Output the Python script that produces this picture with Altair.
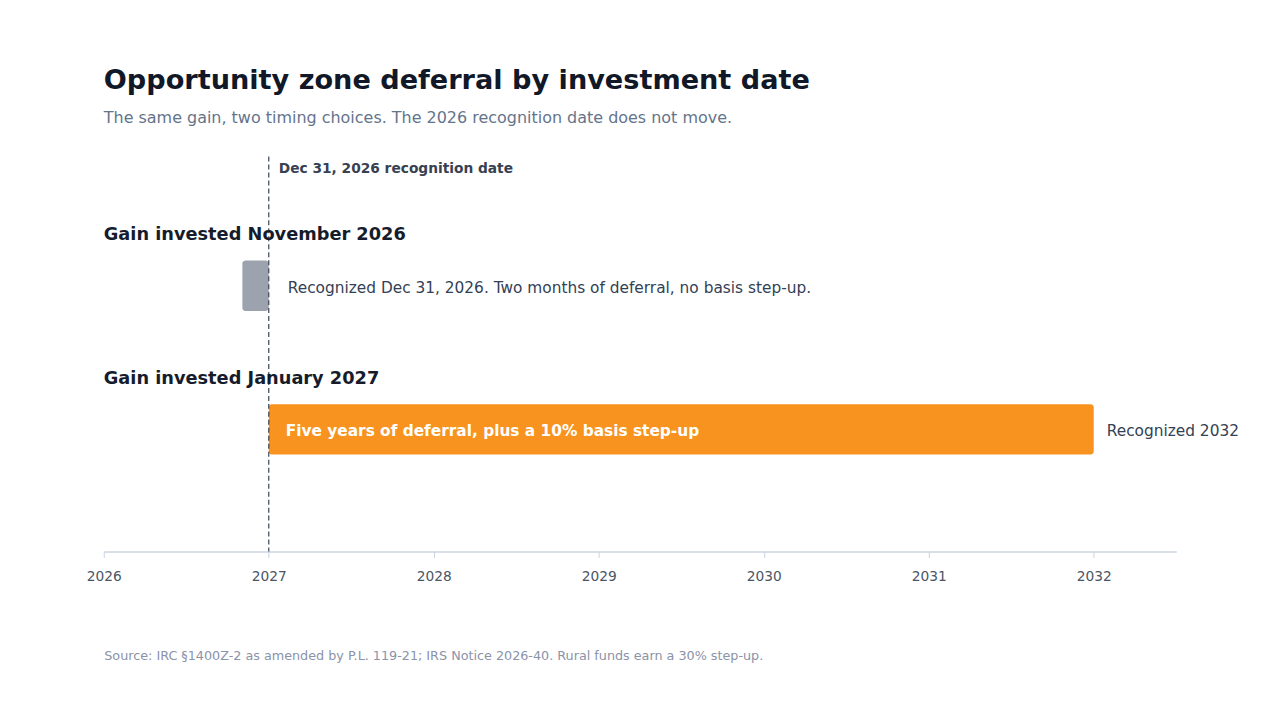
import altair as alt
import pandas as pd

FONT = "DejaVu Sans"

# ---- data ----
row_labels = ["Gain invested November 2026", "Gain invested January 2027"]
row_index = [1, 2]
bar_start = [2026.84, 2027.0]
bar_end = [2027.0, 2032.0]
bar_colors = ["#9ca3af", "#f7931e"]
inside_text = ["", "Five years of deferral, plus a 10% basis step-up"]
end_text = ["Recognized Dec 31, 2026. Two months of deferral, no basis step-up.",
            "Recognized 2032"]
recognition_year = [2027.0]
recognition_label = ["Dec 31, 2026 recognition date"]
tick_years = [2026, 2027, 2028, 2029, 2030, 2031, 2032]

df = pd.DataFrame({
    "label": row_labels,
    "row": row_index,
    "start": bar_start,
    "end": bar_end,
    "color": bar_colors,
    "inside": inside_text,
    "endtext": end_text,
})
rule_df = pd.DataFrame({"x": recognition_year, "label": recognition_label})

xscale = alt.Scale(domain=[2026, 2032.5], nice=False, zero=False)
yscale = alt.Scale(domain=[0, 2.75], reverse=True, nice=False, zero=False)

base = alt.Chart(df).transform_calculate(
    yc="datum.row - 0.1",
    y0="datum.row - 0.275",
    y1="datum.row + 0.075",
    ylab="datum.row - 0.45",
)

bars = base.mark_bar(cornerRadius=3).encode(
    x=alt.X("start:Q", scale=xscale,
            axis=alt.Axis(values=tick_years, format="d",
                          title="Source: IRC §1400Z-2 as amended by P.L. 119-21; IRS Notice 2026-40. Rural funds earn a 30% step-up.",
                          titleAnchor="start", titleAlign="left", titleFontWeight="normal",
                          titleFontSize=12.8, titleColor="#8a93a9", titleFont=FONT,
                          titleY=104, titleBaseline="middle",
                          labelFont=FONT, labelFontSize=13.8, labelColor="#4b5563",
                          labelFlush=False, labelPadding=12, tickSize=6, tickColor="#cbd5e1",
                          domainColor="#cbd5e1", domainWidth=1.5, grid=False)),
    x2="end:Q",
    y=alt.Y("y0:Q", scale=yscale, axis=None),
    y2="y1:Q",
    color=alt.Color("color:N", scale=None),
)

group_labels = base.mark_text(align="left", baseline="middle", font=FONT, fontSize=17.8,
                              fontWeight="bold", color="#161c2b").encode(
    x=alt.value(0),
    y=alt.Y("ylab:Q", scale=yscale),
    text="label:N",
)

inside_labels = base.transform_filter("datum.inside != ''").mark_text(
    align="left", baseline="middle", dx=17, dy=2, font=FONT, fontSize=15.4,
    fontWeight="bold", color="#ffffff").encode(
    x=alt.X("start:Q", scale=xscale),
    y=alt.Y("yc:Q", scale=yscale),
    text="inside:N",
)

end_labels_1 = base.transform_filter("datum.row == 1").mark_text(
    align="left", baseline="middle", dx=19, dy=2, font=FONT, fontSize=15.4,
    color="#334155").encode(
    x=alt.X("end:Q", scale=xscale),
    y=alt.Y("yc:Q", scale=yscale),
    text="endtext:N",
)
end_labels_2 = base.transform_filter("datum.row == 2").mark_text(
    align="left", baseline="middle", dx=13, dy=2, font=FONT, fontSize=15.4,
    color="#334155").encode(
    x=alt.X("end:Q", scale=xscale),
    y=alt.Y("yc:Q", scale=yscale),
    text="endtext:N",
)

rule = alt.Chart(rule_df).mark_rule(color="#3b4658", strokeDash=[5, 3], strokeWidth=1.2).encode(
    x=alt.X("x:Q", scale=xscale),
)
rule_text = alt.Chart(rule_df).transform_calculate(ry="0.085").mark_text(
    align="left", baseline="middle", dx=10, font=FONT, fontSize=13.8,
    fontWeight="bold", color="#374151").encode(
    x=alt.X("x:Q", scale=xscale),
    y=alt.Y("ry:Q", scale=yscale),
    text="label:N",
)

chart = alt.layer(bars, rule, rule_text, group_labels, inside_labels, end_labels_1, end_labels_2).properties(
    width=1075,
    height=396,
    padding={"left": 96, "top": 148, "right": 96, "bottom": 150},
    autosize=alt.AutoSizeParams(type="none"),
    background="#ffffff",
    title=alt.Title(
        "Opportunity zone deferral by investment date",
        subtitle="The same gain, two timing choices. The 2026 recognition date does not move.",
        anchor="start", frame="group", font=FONT, fontSize=27.2, fontWeight="bold", color="#111827",
        subtitleFont=FONT, subtitleFontSize=16, subtitleColor="#64748b",
        subtitlePadding=15, offset=29,
    ),
).configure_view(stroke=None)

chart.save("out.html", embed_options={"renderer": "svg", "actions": False})
